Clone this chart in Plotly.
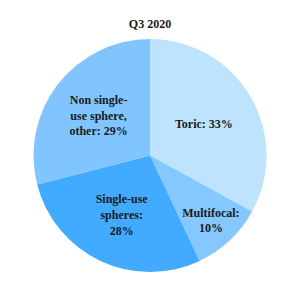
import plotly.graph_objects as go

categories = ["Toric", "Multifocal", "Single-use spheres", "Non single-use sphere, other"]
values = [33, 10, 28, 29]
label_text = ["Toric: 33%", "Multifocal:<br>10%", "Single-use<br>spheres:<br>28%", "Non single-<br>use sphere,<br>other: 29%"]
colors = ["#BEE3FF", "#84C8FF", "#42AAFF", "#80C5FF"]

W, H = 300, 286
cx, cy, r = 150, 155.5, 116.5
FONT = "Liberation Serif, Times New Roman, serif"

fig = go.Figure(go.Pie(
    labels=categories,
    values=values,
    text=["<b>" + t + "</b>" for t in label_text],
    textinfo="text",
    textposition="inside",
    insidetextorientation="horizontal",
    sort=False,
    direction="clockwise",
    rotation=0,
    marker=dict(colors=colors, line=dict(width=0)),
    textfont=dict(family=FONT, size=12, color="#1a1a1a"),
    showlegend=False,
    hoverinfo="label+percent",
    domain=dict(x=[(cx - r) / W, (cx + r) / W], y=[(H - cy - r) / H, (H - cy + r) / H]),
))

fig.update_layout(
    width=W, height=H,
    margin=dict(l=0, r=0, t=0, b=0),
    paper_bgcolor="white",
    font=dict(family=FONT),
    uniformtext=dict(minsize=12, mode="show"),
    title=dict(text="<b>Q3 2020</b>", x=0.5, xanchor="center", y=1 - 24 / H, yanchor="middle",
               font=dict(family=FONT, size=12, color="#1a1a1a")),
)

fig.write_html("out.html")
